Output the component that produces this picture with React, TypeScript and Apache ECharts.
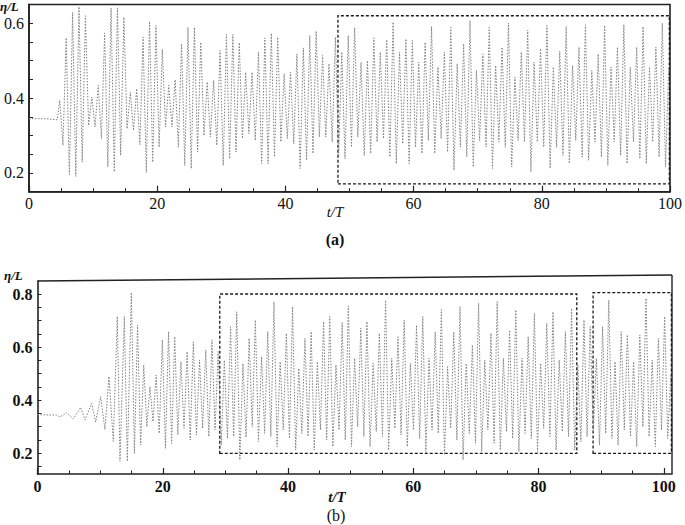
import React, { useEffect, useRef } from "react";
import * as echarts from "echarts";

// ---------- Panel (a) ----------
const aFlatT = [0, 2.5, 4.4];
const aFlatV = [0.345, 0.345, 0.342];
const aStartT = 4.8;
const aPeriod = 1.0;
const aPeaks = [
  0.394, 0.561, 0.629, 0.644, 0.62, 0.403, 0.434, 0.574, 0.641, 0.641, 0.616, 0.416, 0.425, 0.563, 0.605,
  0.594, 0.53, 0.434, 0.449, 0.545, 0.589, 0.589, 0.549, 0.443, 0.447, 0.527, 0.57, 0.57, 0.548, 0.469,
  0.469, 0.523, 0.561, 0.573, 0.563, 0.465, 0.469, 0.518, 0.534, 0.567, 0.579, 0.514, 0.492, 0.563, 0.523,
  0.567, 0.588, 0.496, 0.5, 0.561, 0.523, 0.556, 0.603, 0.523, 0.558, 0.554, 0.496, 0.549, 0.591, 0.483,
  0.523, 0.589, 0.492, 0.545,
  0.607, 0.474, 0.518, 0.589, 0.487, 0.536, 0.6, 0.456, 0.523, 0.582, 0.496, 0.532, 0.594, 0.483, 0.525,
  0.591, 0.487, 0.536, 0.596, 0.474, 0.518, 0.594, 0.483, 0.536, 0.596, 0.483, 0.536, 0.591, 0.483, 0.536,
  0.6, 0.483,
];
const aTroughs = [
  0.274, 0.196, 0.191, 0.229, 0.327, 0.323, 0.292, 0.216, 0.203, 0.247, 0.318, 0.314, 0.276, 0.201, 0.229,
  0.269, 0.323, 0.323, 0.269, 0.22, 0.212, 0.256, 0.3, 0.296, 0.274, 0.22, 0.238, 0.256, 0.292,
  0.305, 0.287, 0.225, 0.225, 0.243, 0.283, 0.292, 0.278, 0.212, 0.234, 0.252, 0.296, 0.296, 0.283, 0.243,
  0.238, 0.269, 0.296, 0.247, 0.252, 0.283, 0.292, 0.243, 0.225, 0.278, 0.225, 0.269, 0.252, 0.287, 0.252,
  0.292, 0.256, 0.207, 0.269, 0.243,
  0.216, 0.287, 0.269, 0.212, 0.283, 0.269, 0.216, 0.287, 0.283, 0.203, 0.283, 0.269, 0.212, 0.269, 0.247,
  0.225, 0.287, 0.243, 0.234, 0.283, 0.243, 0.22, 0.283, 0.247, 0.225, 0.283, 0.238, 0.225, 0.283, 0.243,
  0.216,
];
const aBox = [[48.2, 0.171], [99.9, 0.62]];

// ---------- Panel (b) ----------
const bEarlyT = [0, 3.0, 3.59, 4.66, 5.72, 6.89, 7.58, 8.65, 9.28, 10.08, 10.77, 11.41, 12.1, 12.74, 13.17, 13.86, 14.34];
const bEarlyV = [0.345, 0.344, 0.337, 0.353, 0.33, 0.373, 0.326, 0.388, 0.318, 0.413, 0.29, 0.489, 0.245, 0.715, 0.17, 0.715, 0.17];
const bStartT = 14.98;
const bPeriod = 0.99;
const bPeaks = [
  0.805, 0.683, 0.533, 0.451, 0.495, 0.627, 0.658, 0.639, 0.545, 0.583, 0.62, 0.551, 0.589, 0.627, 0.583,
  0.551, 0.677, 0.733, 0.538,
  0.633, 0.702, 0.564, 0.658, 0.771, 0.545, 0.652, 0.752, 0.52, 0.633, 0.658, 0.545, 0.696, 0.715, 0.533,
  0.692, 0.755, 0.558, 0.671, 0.696, 0.539, 0.652, 0.777, 0.558, 0.639, 0.702, 0.539, 0.683, 0.715, 0.558,
  0.658, 0.742, 0.526, 0.658,
  0.752, 0.539, 0.608, 0.765, 0.551, 0.652, 0.771, 0.558, 0.664, 0.74, 0.558, 0.639, 0.727, 0.539, 0.69,
  0.733, 0.551, 0.658, 0.746, 0.533, 0.702, 0.677, 0.558, 0.677, 0.777, 0.545, 0.658, 0.646, 0.545, 0.646,
  0.784, 0.551, 0.633, 0.715, 0.501,
];
const bTroughs = [
  0.2, 0.231, 0.3, 0.319, 0.275, 0.219, 0.237, 0.269, 0.294, 0.25, 0.269, 0.294, 0.263, 0.288,
  0.231, 0.256, 0.263, 0.175, 0.26,
  0.3, 0.244, 0.275, 0.263, 0.225, 0.288, 0.256, 0.212, 0.275, 0.263, 0.212, 0.288, 0.25, 0.225, 0.288,
  0.25, 0.225, 0.3, 0.263, 0.225, 0.282, 0.263, 0.212, 0.294, 0.269, 0.225, 0.288, 0.256, 0.206, 0.288,
  0.275, 0.194, 0.294, 0.25,
  0.175, 0.275, 0.238, 0.206, 0.288, 0.238, 0.212, 0.282, 0.256, 0.206, 0.275, 0.256, 0.206, 0.294, 0.263,
  0.212, 0.282, 0.263, 0.212, 0.244, 0.263, 0.282, 0.231, 0.275, 0.256, 0.231, 0.288, 0.263, 0.225, 0.3,
  0.263, 0.225, 0.288, 0.256,
];
const bBox1 = [[29.1, 0.2], [86.1, 0.8]];
const bBox2 = [[88.7, 0.2], [101.2, 0.805]];

// ---------- Tick values ----------
const xLabelValues = [0, 20, 40, 60, 80, 100];
const xMajorTicks = [0, 20, 40, 60, 80, 100];
const xMinorTicks = [5, 10, 15, 25, 30, 35, 45, 50, 55, 65, 70, 75, 85, 90, 95];
const aYLabels = [0.2, 0.4, 0.6];
const aYTicks = [0.15, 0.2, 0.25, 0.3, 0.35, 0.4, 0.45, 0.5, 0.55, 0.6];
const bYLabels = [0.2, 0.4, 0.6, 0.8];
const bYTicks = [0.15, 0.2, 0.25, 0.3, 0.35, 0.4, 0.45, 0.5, 0.55, 0.6, 0.65, 0.7, 0.75, 0.8];

function buildSeries(preT: number[], preV: number[], start: number, period: number, peaks: number[], troughs: number[]) {
  const out: number[][] = [];
  preT.forEach((t, i) => out.push([t, preV[i]]));
  peaks.forEach((p, i) => {
    out.push([+(start + i * period).toFixed(3), p]);
    if (i < troughs.length) out.push([+(start + (i + 0.5) * period).toFixed(3), troughs[i]]);
  });
  return out;
}

const SERIF = "Liberation Serif";
const AXIS_COLOR = "#222";

export default function App() {
  const ref = useRef<HTMLDivElement>(null);
  useEffect(() => {
    if (!ref.current) return;
    const chart = echarts.init(ref.current, undefined, { renderer: "svg" });
    const aData = buildSeries(aFlatT, aFlatV, aStartT, aPeriod, aPeaks, aTroughs);
    const bData = buildSeries(bEarlyT, bEarlyV, bStartT, bPeriod, bPeaks, bTroughs);

    const lineStyle = { color: "#808080", width: 1, type: [1.5, 1.5] as any };
    const boxStyle = { color: "rgba(0,0,0,0)", borderColor: "#1a1a1a", borderWidth: 1.3, borderType: [3, 2] as any };

    const xAxisBase = (gridIndex: number, max: number, bold: boolean) => [
      {
        type: "value", gridIndex, min: 0, max, position: "bottom",
        axisLine: { show: true, lineStyle: { color: AXIS_COLOR, width: 1.6 } },
        axisTick: { show: true, inside: true, length: 6, customValues: xMajorTicks, lineStyle: { color: AXIS_COLOR, width: 1.2 } },
        axisLabel: {
          show: true, customValues: xLabelValues, margin: 4, color: "#111",
          fontFamily: SERIF, fontSize: 16, fontWeight: bold ? "bold" : "normal",
        },
        splitLine: { show: false },
      },
      {
        type: "value", gridIndex, min: 0, max, position: "bottom",
        axisLine: { show: false },
        axisTick: { show: true, inside: true, length: 3.5, customValues: xMinorTicks, lineStyle: { color: AXIS_COLOR, width: 1 } },
        axisLabel: { show: false },
        splitLine: { show: false },
      },
    ];

    const yAxisBase = (gridIndex: number, min: number, max: number, ticks: number[], labels: number[], bold: boolean) => ({
      type: "value", gridIndex, min, max, position: "left",
      axisLine: { show: true, lineStyle: { color: AXIS_COLOR, width: 1.6 } },
      axisTick: { show: true, inside: true, length: 4, customValues: ticks, lineStyle: { color: AXIS_COLOR, width: 1 } },
      axisLabel: {
        show: true, customValues: labels, margin: 5, color: "#111",
        fontFamily: SERIF, fontSize: 16, fontWeight: bold ? "bold" : "normal",
        formatter: (v: number) => v.toFixed(1),
      },
      splitLine: { show: false },
    });

    chart.setOption({
      animation: false,
      backgroundColor: "#fff",
      grid: [
        { left: 29, right: 13.5, top: 4.5, bottom: 333.3, show: true, borderColor: AXIS_COLOR, borderWidth: 1.6, backgroundColor: "transparent" },
        { left: 37.5, right: 13, top: 281, bottom: 51, show: false },
      ],
      xAxis: [...xAxisBase(0, 100, false), ...xAxisBase(1, 101.3, true)],
      yAxis: [
        yAxisBase(0, 0.15, 0.65, aYTicks, aYLabels, false),
        yAxisBase(1, 0.122, 0.849, bYTicks, bYLabels, true),
      ],
      series: [
        {
          type: "line", xAxisIndex: 0, yAxisIndex: 0, data: aData, showSymbol: false, symbol: "none",
          lineStyle, silent: true,
          markArea: { silent: true, itemStyle: boxStyle, data: [[{ coord: aBox[0] }, { coord: aBox[1] }]] },
        },
        {
          type: "line", xAxisIndex: 2, yAxisIndex: 1, data: bData, showSymbol: false, symbol: "none",
          lineStyle, silent: true,
          markArea: {
            silent: true, itemStyle: boxStyle,
            data: [
              [{ coord: bBox1[0] }, { coord: bBox1[1] }],
              [{ coord: bBox2[0] }, { coord: bBox2[1] }],
            ],
          },
        },
      ],
      graphic: [
        { type: "line", shape: { x1: 37.5, y1: 281, x2: 672, y2: 275 }, style: { stroke: AXIS_COLOR, lineWidth: 1.6 } },
        { type: "line", shape: { x1: 672, y1: 275, x2: 672, y2: 474 }, style: { stroke: AXIS_COLOR, lineWidth: 1.4 } },
        { type: "text", x: 0, y: 0, style: { text: "η/L", font: `italic bold 13px ${SERIF}`, fill: "#111", align: "left", verticalAlign: "top" } },
        { type: "text", x: 335, y: 212, style: { text: "t/T", font: `italic 15px ${SERIF}`, fill: "#111", align: "center", verticalAlign: "middle" } },
        { type: "text", x: 335, y: 239, style: { text: "(a)", font: `bold 16px ${SERIF}`, fill: "#111", align: "center", verticalAlign: "middle" } },
        { type: "text", x: 4, y: 269, style: { text: "η/L", font: `italic bold 13px ${SERIF}`, fill: "#111", align: "left", verticalAlign: "top" } },
        { type: "text", x: 337, y: 497, style: { text: "t/T", font: `italic bold 15px ${SERIF}`, fill: "#111", align: "center", verticalAlign: "middle" } },
        { type: "text", x: 336, y: 515, style: { text: "(b)", font: `16px ${SERIF}`, fill: "#111", align: "center", verticalAlign: "middle" } },
      ],
    });
    return () => chart.dispose();
  }, []);
  return <div ref={ref} style={{ position: "fixed", left: 0, top: 0, width: 685, height: 525, background: "#fff" }} />;
}
